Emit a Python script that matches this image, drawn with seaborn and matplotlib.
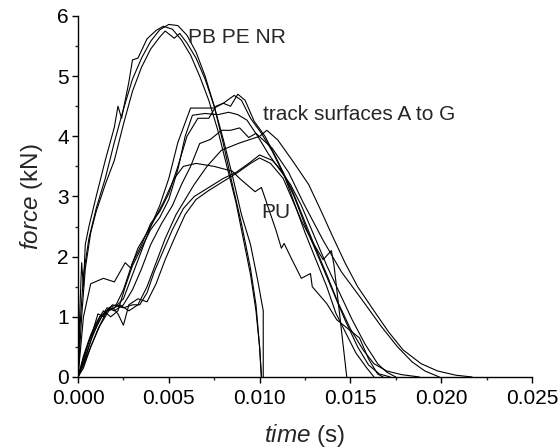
import seaborn as sns
import matplotlib.pyplot as plt
import pandas as pd
import numpy as np
from matplotlib.ticker import MultipleLocator, FormatStrFormatter

# force-time curves (time in s, force in kN)
pb1_t = [0, 0.0001, 0.0003, 0.0006, 0.001, 0.0015, 0.002, 0.0025, 0.003, 0.0035, 0.004, 0.0045, 0.005,
         0.0055, 0.006, 0.0065, 0.007, 0.0075, 0.008, 0.0085, 0.009, 0.0095, 0.0098, 0.01, 0.0101]
pb1_f = [0, 0.8, 1.7, 2.3, 2.8, 3.3, 3.9, 4.45, 4.95, 5.3, 5.58, 5.77, 5.86,
         5.84, 5.68, 5.4, 5.0, 4.5, 3.88, 3.2, 2.55, 1.8, 1.2, 0.5, 0]

pb2_t = [0, 0.0001, 0.0002, 0.0003, 0.0004, 0.0006, 0.001, 0.0015, 0.002, 0.0022, 0.0024, 0.0028, 0.003,
         0.0033, 0.0038, 0.0043, 0.0047, 0.0052, 0.0057, 0.0062, 0.0067, 0.0072, 0.0077, 0.0082, 0.0087,
         0.0091, 0.0095, 0.0098, 0.01, 0.0101]
pb2_f = [0, 1.1, 1.9, 1.5, 2.2, 2.5, 3.0, 3.6, 4.15, 4.5, 4.3, 4.9, 5.27,
         5.3, 5.62, 5.76, 5.83, 5.78, 5.6, 5.35, 5.0, 4.6, 4.1, 3.5, 2.9,
         2.3, 1.7, 1.1, 0.5, 0]

pb3_t = [0, 0.0002, 0.0004, 0.0007, 0.001, 0.0015, 0.002, 0.0025, 0.003, 0.0035, 0.004, 0.0045, 0.0048,
         0.0053, 0.0056, 0.006, 0.0065, 0.007, 0.0075, 0.008, 0.0085, 0.009, 0.0095, 0.0099, 0.0102, 0.0102]
pb3_f = [0, 1.0, 1.8, 2.4, 2.75, 3.2, 3.6, 4.2, 4.75, 5.15, 5.45, 5.65, 5.75,
         5.63, 5.71, 5.55, 5.3, 4.95, 4.5, 3.95, 3.35, 2.7, 2.2, 1.6, 1.1, 0]

tr1_t = [0, 0.0003, 0.0006, 0.0009, 0.0012, 0.0016, 0.002, 0.0025, 0.003, 0.0035, 0.004, 0.0045, 0.005,
         0.0055, 0.0062, 0.0068, 0.0075, 0.008, 0.0086, 0.009, 0.0095, 0.0101, 0.0107, 0.0113, 0.0119,
         0.0126, 0.0133, 0.014, 0.0147, 0.0154, 0.016, 0.0166, 0.0172]
tr1_f = [0, 0.3, 0.6, 0.8, 1.0, 1.1, 1.15, 1.3, 1.7, 2.1, 2.5, 2.85, 3.3,
         3.9, 4.47, 4.47, 4.47, 4.55, 4.68, 4.6, 4.3, 4.05, 3.75, 3.38, 3.0,
         2.45, 1.95, 1.45, 0.95, 0.5, 0.2, 0.05, 0]

tr2_t = [0, 0.0002, 0.0005, 0.0008, 0.0011, 0.0014, 0.0017, 0.0021, 0.0025, 0.003, 0.0035, 0.004, 0.0045,
         0.005, 0.0055, 0.006, 0.0066, 0.0072, 0.0076, 0.008, 0.0084, 0.0088, 0.0092, 0.0097, 0.0103,
         0.0109, 0.0113, 0.0118, 0.0124, 0.013, 0.0137, 0.0143, 0.015, 0.0157, 0.0163, 0.017, 0.0178, 0.0188]
tr2_f = [0, 0.2, 0.5, 0.75, 1.05, 1.0, 1.15, 1.2, 1.45, 1.9, 2.2, 2.55, 2.75,
         3.05, 3.5, 4.0, 4.3, 4.3, 4.5, 4.55, 4.5, 4.7, 4.6, 4.25, 4.0,
         3.65, 3.4, 3.1, 2.65, 2.2, 1.7, 1.25, 0.8, 0.45, 0.22, 0.1, 0.04, 0]

tr3_t = [0, 0.0003, 0.0007, 0.001, 0.0014, 0.0018, 0.0022, 0.0026, 0.003, 0.0035, 0.004, 0.0045, 0.005,
         0.0055, 0.0059, 0.0063, 0.007, 0.0077, 0.0083, 0.0088, 0.0093, 0.0099, 0.0105, 0.0111, 0.0117,
         0.0123, 0.013, 0.0137, 0.0144, 0.0151, 0.0158, 0.0165, 0.017, 0.0175]
tr3_f = [0, 0.35, 0.7, 0.9, 1.1, 1.0, 1.1, 1.5, 1.85, 2.15, 2.45, 2.65, 2.95,
         3.45, 4.0, 4.35, 4.38, 4.36, 4.4, 4.36, 4.27, 4.0, 3.7, 3.45, 3.2,
         2.85, 2.35, 1.85, 1.4, 0.95, 0.55, 0.22, 0.08, 0]

tr5_t = [0, 0.0003, 0.0007, 0.0011, 0.0016, 0.002, 0.0025, 0.003, 0.0035, 0.004, 0.0046, 0.0052, 0.0057,
         0.0062, 0.0067, 0.0073, 0.0079, 0.0084, 0.0089, 0.0094, 0.0098, 0.0107, 0.0116, 0.0124, 0.0135,
         0.0145, 0.0156, 0.0167, 0.0176, 0.0184, 0.0191, 0.0199]
tr5_f = [0, 0.25, 0.6, 0.9, 1.15, 1.1, 1.2, 1.45, 1.8, 2.2, 2.55, 2.85, 3.2,
         3.5, 3.88, 3.95, 4.1, 4.1, 4.14, 3.98, 4.05, 3.8, 3.4, 2.9, 2.27,
         1.75, 1.3, 0.84, 0.5, 0.25, 0.1, 0]

tr6_t = [0, 0.0003, 0.0007, 0.0012, 0.0017, 0.0023, 0.0028, 0.0033, 0.0038, 0.0043, 0.0048, 0.0054, 0.0058,
         0.0064, 0.0071, 0.0079, 0.0089, 0.01, 0.0104, 0.011, 0.0118, 0.0127, 0.0134, 0.014, 0.0147,
         0.0154, 0.0163, 0.0171, 0.0179, 0.0189, 0.0198, 0.0208, 0.0217]
tr6_f = [0, 0.2, 0.5, 0.85, 1.1, 1.2, 1.1, 1.2, 1.5, 1.9, 2.3, 2.7, 2.9,
         3.2, 3.5, 3.77, 3.89, 4.0, 4.1, 3.94, 3.6, 3.2, 2.75, 2.35, 1.9,
         1.5, 1.1, 0.75, 0.45, 0.22, 0.1, 0.03, 0]

tr7_t = [0, 0.0004, 0.0008, 0.0013, 0.0019, 0.0025, 0.003, 0.0034, 0.0038, 0.0042, 0.0047, 0.0052, 0.0058,
         0.0064, 0.0072, 0.008, 0.0087, 0.0094, 0.01, 0.0107, 0.0113, 0.0119, 0.0125, 0.0131, 0.0137,
         0.0142, 0.0148, 0.0153, 0.0159, 0.0163]
tr7_f = [0, 0.3, 0.7, 1.0, 1.2, 1.15, 1.2, 1.2, 1.4, 1.75, 2.1, 2.45, 2.8,
         3.0, 3.15, 3.3, 3.4, 3.55, 3.69, 3.6, 3.4, 2.9, 2.4, 1.95, 1.5,
         1.06, 0.7, 0.4, 0.15, 0]

tr8_t = [0, 0.0003, 0.0007, 0.0011, 0.0016, 0.0019, 0.0022, 0.0025, 0.0028, 0.0033, 0.0038, 0.0043, 0.0048,
         0.0053, 0.0059, 0.0065, 0.0072, 0.008, 0.0088, 0.0095, 0.01, 0.0106, 0.0113, 0.0118, 0.0123,
         0.0129, 0.0135, 0.01395, 0.0141, 0.0148]
tr8_f = [0, 0.15, 0.5, 0.8, 1.1, 1.15, 1.05, 0.86, 1.2, 1.3, 1.25, 1.55, 1.95,
         2.3, 2.7, 2.95, 3.1, 3.25, 3.4, 3.55, 3.64, 3.55, 3.3, 2.95, 2.6,
         2.25, 1.95, 2.1, 1.85, 0]

pu_t = [0, 0.0003, 0.0007, 0.0014, 0.002, 0.0026, 0.0029, 0.0033, 0.004, 0.0047, 0.0053, 0.0058, 0.0065,
        0.0075, 0.0085, 0.0089, 0.00975, 0.0101, 0.0109, 0.0112, 0.01135, 0.0117, 0.0123, 0.0128, 0.0129,
        0.0137, 0.01425, 0.0155, 0.016, 0.0165, 0.0168]
pu_f = [0, 1.0, 1.55, 1.64, 1.58, 1.9, 1.81, 2.14, 2.5, 2.9, 3.3, 3.5, 3.55,
        3.5, 3.42, 3.3, 3.08, 3.15, 2.44, 2.14, 2.22, 2.0, 1.64, 1.72, 1.5,
        1.22, 0.95, 0.65, 0.3, 0.05, 0]

curves = {
    'PB': (pb1_t, pb1_f), 'PE': (pb2_t, pb2_f), 'NR': (pb3_t, pb3_f),
    'A': (tr1_t, tr1_f), 'B': (tr2_t, tr2_f), 'C': (tr3_t, tr3_f), 'D': (tr5_t, tr5_f),
    'E': (tr6_t, tr6_f), 'F': (tr7_t, tr7_f), 'G': (tr8_t, tr8_f), 'PU': (pu_t, pu_f),
}

rows = []
for name, (t, f) in curves.items():
    for i in range(len(t)):
        rows.append((name, i, t[i], f[i]))
df = pd.DataFrame(rows, columns=['surface', 'order', 'time', 'force'])

sns.set_style('ticks')
plt.rcParams['font.family'] = ['Liberation Sans', 'DejaVu Sans']
plt.rcParams['mathtext.fontset'] = 'custom'
plt.rcParams['mathtext.rm'] = 'Liberation Sans'
plt.rcParams['mathtext.it'] = 'Liberation Sans:italic'

fig = plt.figure(figsize=(5.6, 4.48), dpi=100)
ax = fig.add_axes([0.1393, 0.1585, 0.8107, 0.8058])

sns.lineplot(data=df, x='time', y='force', units='surface', estimator=None, sort=False,
             color='black', lw=0.8, ax=ax)

ax.set_xlim(0, 0.025)
ax.set_ylim(0, 6)
ax.xaxis.set_major_locator(MultipleLocator(0.005))
ax.xaxis.set_minor_locator(MultipleLocator(0.0025))
ax.xaxis.set_major_formatter(FormatStrFormatter('%.3f'))
ax.yaxis.set_major_locator(MultipleLocator(1))
ax.yaxis.set_minor_locator(MultipleLocator(0.5))
ax.tick_params(which='major', direction='out', length=4.5, width=1, labelsize=15, colors='black')
ax.tick_params(which='minor', direction='out', length=2.3, width=1)
ax.tick_params(axis='x', which='major', pad=4.5)
ax.tick_params(axis='y', which='major', pad=2)
sns.despine(ax=ax)
for s in ['left', 'bottom']:
    ax.spines[s].set_linewidth(1)
    ax.spines[s].set_color('black')

ax.set_xlabel(r'$\mathit{time}$ (s)', fontsize=17.5, labelpad=10)
ax.set_ylabel(r'$\mathit{force}$ (kN)', fontsize=17.5, labelpad=9)

ax.text(0.00606, 5.55, 'PB PE NR', fontsize=15)
ax.text(0.01019, 4.27, 'track surfaces A to G', fontsize=15)
ax.text(0.01008, 2.64, 'PU', fontsize=15)

fig.savefig('out.png', dpi=100)
